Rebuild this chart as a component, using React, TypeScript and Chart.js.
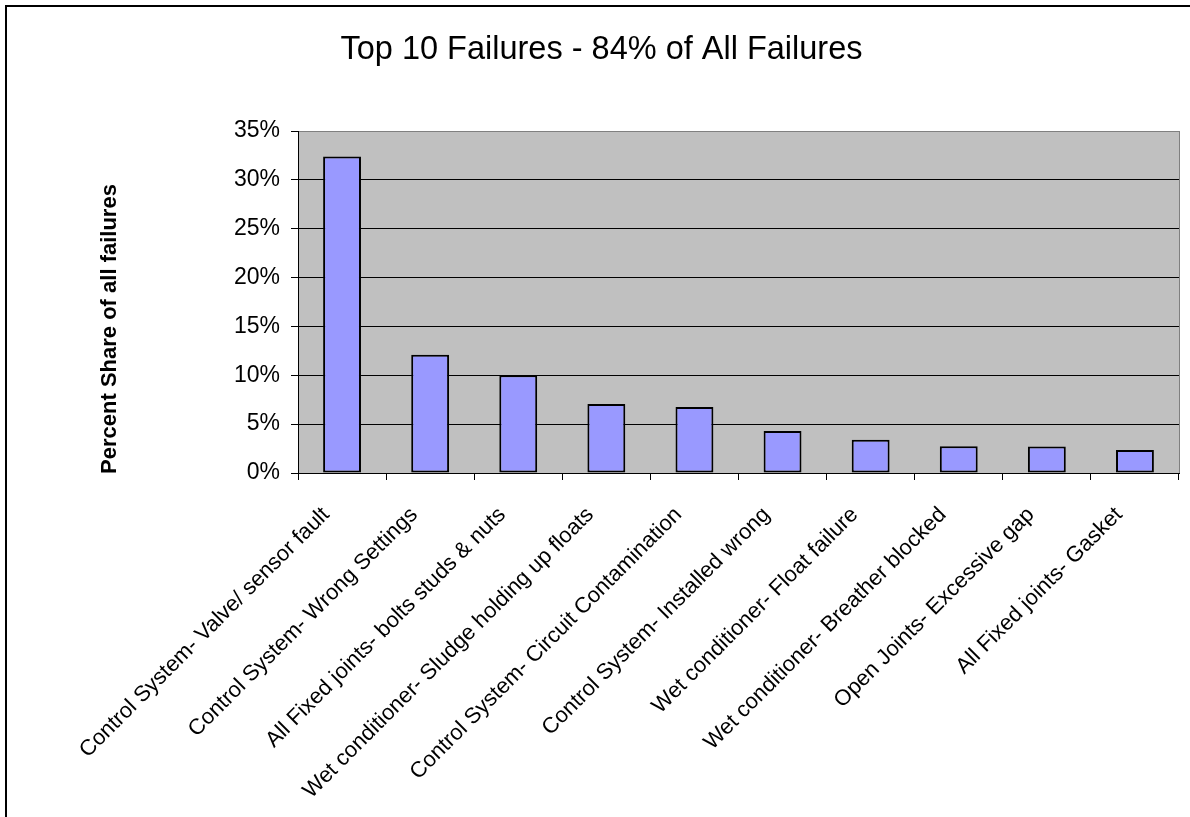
import React, { useEffect, useRef } from 'react';
import { Chart, registerables } from 'chart.js';

Chart.register(...registerables);

const categories = [
  'Control System- Valve/ sensor fault',
  'Control System- Wrong Settings',
  'All Fixed joints- bolts studs & nuts',
  'Wet conditioner- Sludge holding up floats',
  'Control System- Circuit Contamination',
  'Control System- Installed wrong',
  'Wet conditioner- Float failure',
  'Wet conditioner- Breather blocked',
  'Open Joints- Excessive gap',
  'All Fixed joints- Gasket',
];
const shares = [32.4, 12.1, 10.0, 7.05, 6.75, 4.3, 3.4, 2.75, 2.7, 2.35];
const yMin = 0;
const yMax = 35;
const yStep = 5;
const chartTitle = 'Top 10 Failures - 84% of All Failures';
const yAxisTitle = 'Percent Share of all failures';

const FONT = "'Liberation Sans', Arial, sans-serif";

const decor = {
  id: 'decor',
  beforeDraw(chart: any) {
    const { ctx, chartArea: a } = chart;
    ctx.save();
    ctx.fillStyle = '#ffffff';
    ctx.fillRect(0, 0, chart.width, chart.height);
    ctx.fillStyle = '#C0C0C0';
    ctx.fillRect(a.left, a.top, a.right - a.left, a.bottom - a.top);
    ctx.restore();
  },
  afterDatasetsDraw(chart: any) {
    const { ctx, chartArea: a } = chart;
    ctx.save();
    ctx.strokeStyle = '#808080';
    ctx.lineWidth = 1;
    ctx.beginPath();
    ctx.moveTo(a.right + 0.5, a.top);
    ctx.lineTo(a.right + 0.5, a.bottom);
    ctx.stroke();
    ctx.restore();
  },
  afterDraw(chart: any) {
    const { ctx } = chart;
    ctx.save();
    ctx.strokeStyle = '#000';
    ctx.lineWidth = 2;
    ctx.beginPath();
    ctx.moveTo(6, chart.height + 5);
    ctx.lineTo(6, 6);
    ctx.lineTo(chart.width + 5, 6);
    ctx.stroke();
    ctx.translate(110, 329);
    ctx.rotate(-Math.PI / 2);
    ctx.font = `bold 22px ${FONT}`;
    ctx.fillStyle = '#000';
    ctx.textAlign = 'center';
    ctx.textBaseline = 'middle';
    ctx.fillText(yAxisTitle, 0, 0);
    ctx.restore();
  },
};

export default function App() {
  const ref = useRef<HTMLCanvasElement | null>(null);
  useEffect(() => {
    if (!ref.current) return;
    Chart.defaults.font.family = FONT;
    Chart.defaults.color = '#000';
    const chart = new Chart(ref.current, {
      type: 'bar',
      data: {
        labels: categories,
        datasets: [
          {
            data: shares,
            backgroundColor: '#9999FF',
            borderColor: '#000000',
            borderWidth: 2,
            borderSkipped: false,
            barPercentage: 0.43,
            categoryPercentage: 1,
          },
        ],
      },
      options: {
        responsive: false,
        animation: false,
        devicePixelRatio: 1,
        layout: { padding: { left: 24, right: 11, top: 0, bottom: 0 } },
        plugins: {
          legend: { display: false },
          tooltip: { enabled: false },
          title: {
            display: true,
            text: chartTitle,
            color: '#000',
            font: { size: 32.5, weight: 'normal', family: FONT },
            padding: { top: 31, bottom: 61 },
          },
        },
        scales: {
          x: {
            offset: true,
            grid: {
              display: true,
              drawOnChartArea: false,
              drawTicks: true,
              tickLength: 7,
              offset: true,
              color: '#000',
              tickColor: '#000',
            },
            border: { display: true, color: '#000', width: 1 },
            ticks: {
              autoSkip: false,
              minRotation: 45,
              maxRotation: 45,
              padding: 22,
              labelOffset: -16,
              color: '#000',
              font: { size: 22, family: FONT },
            },
            afterFit: (s: any) => {
              s.height = 344;
            },
          },
          y: {
            min: yMin,
            max: yMax,
            grid: {
              color: (c: any) => (c.tick && c.tick.value === yMax ? '#808080' : '#000'),
              tickColor: '#000',
              tickLength: 7,
              lineWidth: 1,
            },
            border: { display: true, color: '#000', width: 1 },
            ticks: {
              stepSize: yStep,
              padding: 11,
              color: '#000',
              font: { size: 23, family: FONT },
              callback: (v: any) => `${v}%`,
            },
            afterFit: (s: any) => {
              s.width = 274;
            },
          },
        },
      },
      plugins: [decor],
    });
    return () => chart.destroy();
  }, []);
  return (
    <div style={{ position: 'absolute', left: 0, top: 0, width: 1190, height: 817 }}>
      <canvas ref={ref} width={1190} height={817} />
    </div>
  );
}
